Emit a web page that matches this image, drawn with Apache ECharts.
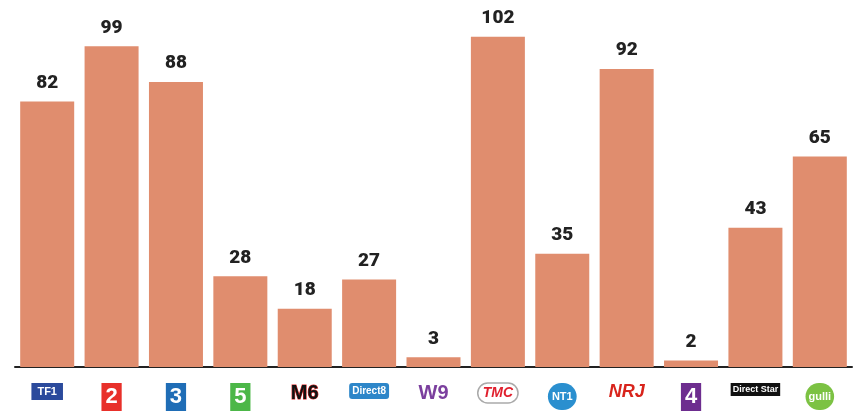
<!DOCTYPE html>
<html>
<head>
<meta charset="utf-8">
<style>
  html, body { margin: 0; padding: 0; background: #fff; }
  #chart { width: 853px; height: 412px; }
</style>
<script src="https://cdn.jsdelivr.net/npm/echarts@6/dist/echarts.min.js"></script>
</head>
<body>
<div id="chart"></div>
<script>
// Channels and values
var channels = ['TF1', 'France 2', 'France 3', 'France 5', 'M6', 'Direct8', 'W9',
                'TMC', 'NT1', 'NRJ12', 'France 4', 'Direct Star', 'Gulli'];
var values = [82, 99, 88, 28, 18, 27, 3, 102, 35, 92, 2, 43, 65];

// Logo-like text for each channel (logos are images in the original)
var logoText = ['TF1', '2', '3', '5', 'M6', 'Direct8', 'W9', 'TMC', 'NT1', 'NRJ', '4', 'Direct Star', 'gulli'];
var logoStyle = ['tf1', 'f2', 'f3', 'f5', 'm6', 'd8', 'w9', 'tmc', 'nt1', 'nrj', 'f4', 'dstar', 'gulli'];

var chart = echarts.init(document.getElementById('chart'));

var option = {
    animation: false,
    grid: { left: 15, right: 1, top: 1, bottom: 45 },
    xAxis: {
        type: 'category',
        data: channels,
        axisLine: { lineStyle: { color: '#222', width: 2 } },
        axisTick: { show: false },
        axisLabel: {
            margin: 16,
            interval: 0,
            formatter: function (v) {
                var i = channels.indexOf(v);
                return '{' + logoStyle[i] + '|' + logoText[i] + '}';
            },
            rich: {
                tf1: { backgroundColor: '#2b4a9c', color: '#fff', fontWeight: 'bold', fontSize: 11, padding: [3, 6], fontFamily: 'Arial' },
                f2: { backgroundColor: '#e8302a', color: '#fff', fontWeight: 'bold', fontSize: 22, padding: [3, 4], fontFamily: 'Arial' },
                f3: { backgroundColor: '#1f6db6', color: '#fff', fontWeight: 'bold', fontSize: 22, padding: [3, 4], fontFamily: 'Arial' },
                f5: { backgroundColor: '#4cb748', color: '#fff', fontWeight: 'bold', fontSize: 22, padding: [3, 4], fontFamily: 'Arial' },
                m6: { color: '#111', fontWeight: 'bold', fontSize: 20, fontFamily: 'Arial', textBorderColor: '#d22', textBorderWidth: 1 },
                d8: { backgroundColor: '#2d86c9', color: '#fff', fontWeight: 'bold', fontSize: 10, padding: [3, 3], borderRadius: 3, fontFamily: 'Arial' },
                w9: { color: '#7b3f9e', fontWeight: 900, fontSize: 20, fontFamily: 'Arial' },
                tmc: { color: '#e0202e', fontWeight: 'bold', fontStyle: 'italic', fontSize: 14, fontFamily: 'Arial', padding: [3, 5], borderColor: '#aaa', borderWidth: 1.5, borderRadius: 12 },
                nt1: { color: '#fff', backgroundColor: '#2a8fcf', fontWeight: 'bold', fontSize: 11, padding: [8, 4], borderRadius: 15, fontFamily: 'Arial' },
                nrj: { color: '#d8241c', fontWeight: 'bold', fontSize: 18, fontStyle: 'italic', fontFamily: 'Arial' },
                f4: { backgroundColor: '#6d2d8f', color: '#fff', fontWeight: 'bold', fontSize: 22, padding: [3, 4], fontFamily: 'Arial' },
                dstar: { backgroundColor: '#111', color: '#fff', fontWeight: 'bold', fontSize: 9, padding: [2, 2], fontFamily: 'Arial' },
                gulli: { backgroundColor: '#7cc243', color: '#fff', fontWeight: 'bold', fontSize: 11, padding: [8, 3], borderRadius: 15, fontFamily: 'Arial' }
            }
        }
    },
    yAxis: {
        type: 'value',
        min: 0,
        max: 113,
        show: false,
        splitLine: { show: false }
    },
    series: [{
        type: 'bar',
        data: values,
        barWidth: 54,
        itemStyle: { color: '#e08d6e' },
        label: {
            show: true,
            position: 'top',
            distance: 9,
            color: '#222',
            fontSize: 19,
            fontWeight: 900,
            fontFamily: 'Roboto'
        }
    }]
};

chart.setOption(option);
</script>
</body>
</html>
